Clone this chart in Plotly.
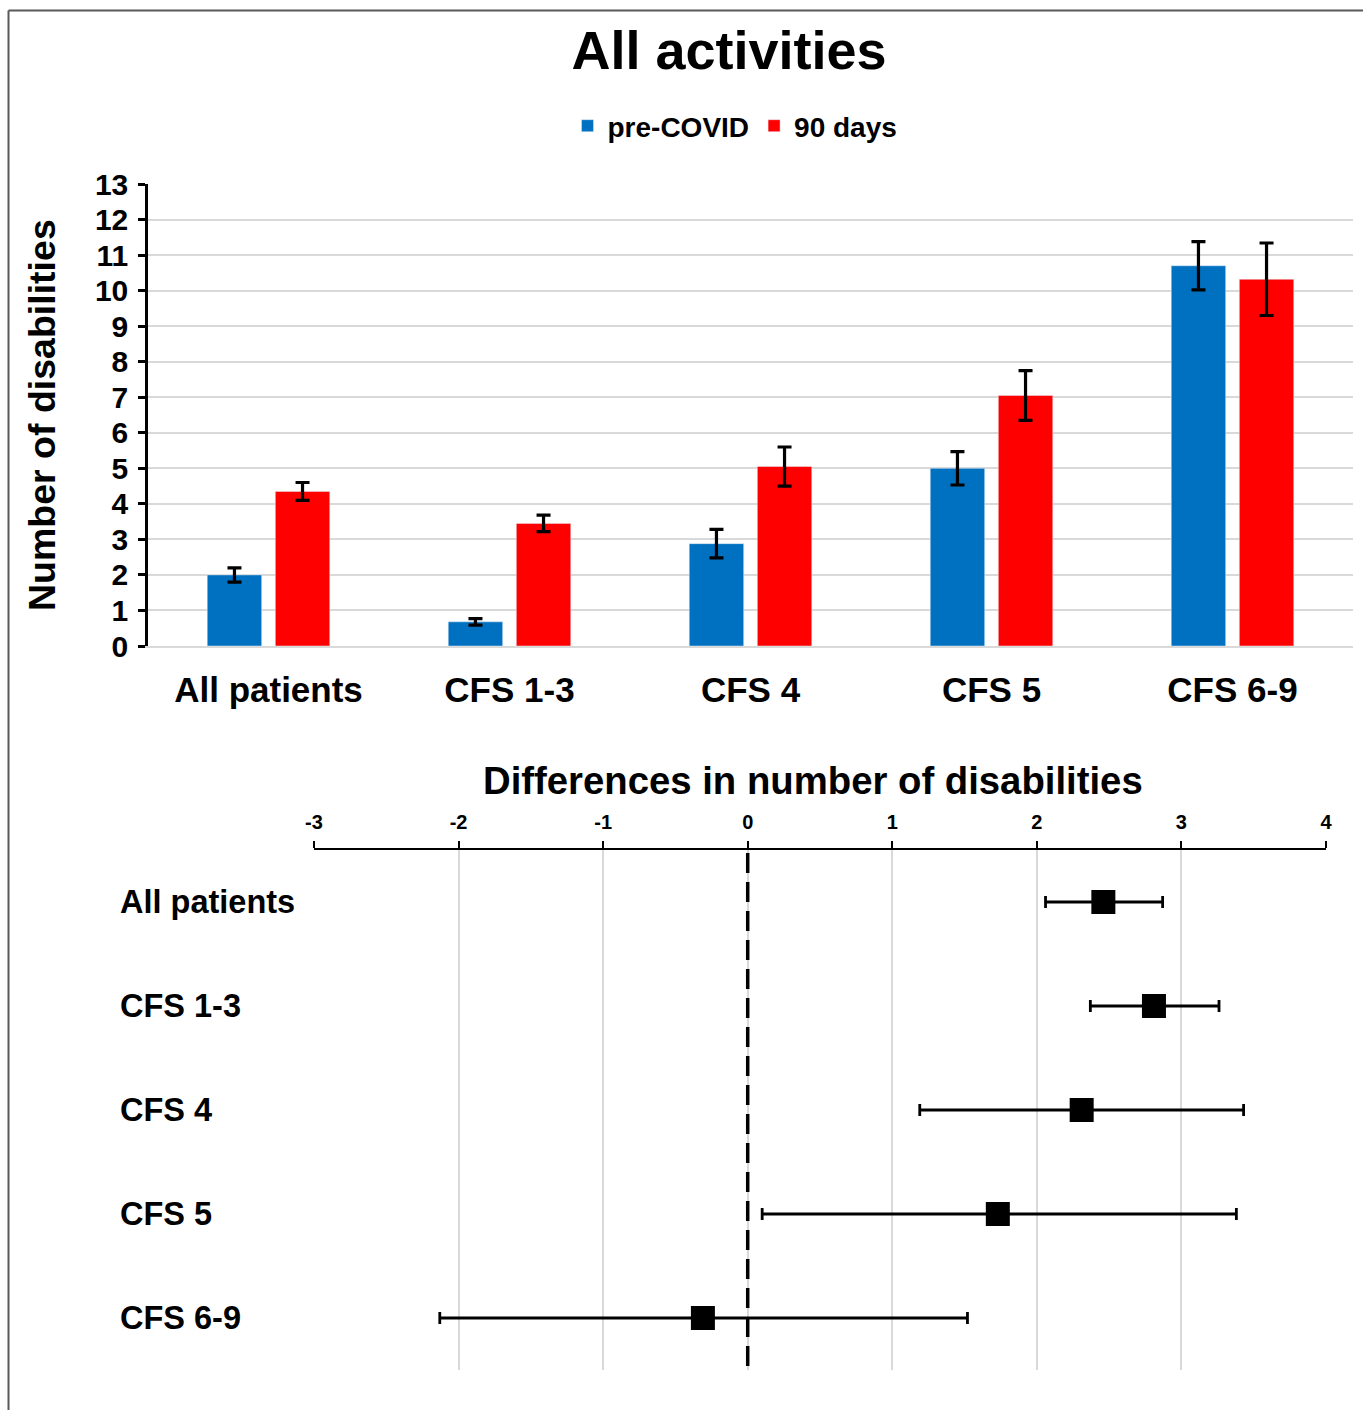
import plotly.graph_objects as go

W, H = 1363, 1410

categories = ["All patients", "CFS 1-3", "CFS 4", "CFS 5", "CFS 6-9"]
pre_covid = [2.0, 0.68, 2.88, 5.0, 10.7]
pre_covid_err = [0.2, 0.09, 0.4, 0.47, 0.68]
days90 = [4.35, 3.45, 5.05, 7.05, 10.32]
days90_err = [0.25, 0.23, 0.55, 0.7, 1.02]

diff = [2.46, 2.81, 2.31, 1.73, -0.31]
diff_lo = [2.06, 2.37, 1.19, 0.10, -2.13]
diff_hi = [2.87, 3.26, 3.43, 3.38, 1.52]

y_ticks = list(range(0, 14))
x2_ticks = [-3, -2, -1, 0, 1, 2, 3, 4]

FONT = "Liberation Sans, Arial, sans-serif"
BLUE = "#0070C0"
RED = "#FF0000"
GRID = "#d9d9d9"


def px_x(p):
    return p / W


def px_y(p):
    return 1 - p / H


fig = go.Figure()

fig.add_trace(go.Bar(
    x=categories, y=pre_covid, name="<b>pre-COVID</b>",
    marker=dict(color=BLUE),
    error_y=dict(type="data", array=pre_covid_err, color="black", thickness=3.2, width=7),
    xaxis="x", yaxis="y",
))
fig.add_trace(go.Bar(
    x=categories, y=days90, name="<b>90 days</b>",
    marker=dict(color=RED),
    error_y=dict(type="data", array=days90_err, color="black", thickness=3.2, width=7),
    xaxis="x", yaxis="y",
))

fig.add_trace(go.Scatter(
    x=diff, y=categories, mode="markers", showlegend=False,
    marker=dict(symbol="square", size=24, color="black"),
    error_x=dict(type="data", symmetric=False,
                 array=[h - d for h, d in zip(diff_hi, diff)],
                 arrayminus=[d - l for d, l in zip(diff, diff_lo)],
                 color="black", thickness=2.8, width=6),
    xaxis="x2", yaxis="y2",
))

annotations = [
    dict(text="<b>Number of disabilities</b>", xref="paper", yref="paper",
         x=px_x(42), y=px_y(415), textangle=-90, showarrow=False,
         font=dict(size=37.5, color="black", family=FONT), xanchor="center", yanchor="middle"),
    dict(text="<b>Differences in number of disabilities</b>", xref="paper", yref="paper",
         x=px_x(813), y=px_y(780), showarrow=False,
         font=dict(size=38.3, color="black", family=FONT), xanchor="center", yanchor="middle"),
]
for c in categories:
    annotations.append(dict(
        text="<b>%s</b>" % c, xref="paper", yref="y2", x=px_x(118), y=c,
        xanchor="left", yanchor="middle", showarrow=False,
        font=dict(size=32.5, color="black", family=FONT)))

shapes = [
    dict(type="line", xref="paper", yref="paper", x0=px_x(8.5), x1=1,
         y0=px_y(10.5), y1=px_y(10.5), line=dict(color="#595959", width=2), layer="below"),
    dict(type="line", xref="paper", yref="paper", x0=px_x(8.5), x1=px_x(8.5),
         y0=0, y1=px_y(10.5), line=dict(color="#595959", width=2), layer="below"),
    dict(type="line", xref="x2", yref="paper", x0=0, x1=0,
         y0=px_y(1366), y1=px_y(851), line=dict(color="black", width=3.5, dash="20px,9px")),
]

fig.update_layout(
    width=W, height=H,
    margin=dict(l=0, r=0, t=0, b=0, pad=0, autoexpand=False),
    paper_bgcolor="white", plot_bgcolor="white",
    font=dict(family=FONT, color="black"),
    title=dict(text="<b>All activities</b>", x=px_x(729), xanchor="center",
               y=px_y(50), yanchor="middle", font=dict(size=54, color="black", family=FONT)),
    barmode="group", bargap=0.435, bargroupgap=0.2,
    legend=dict(orientation="h", x=px_x(735), xanchor="center", y=px_y(126), yanchor="middle",
                font=dict(size=28, color="black", family=FONT), itemwidth=30,
                bgcolor="rgba(0,0,0,0)"),
    xaxis=dict(domain=[px_x(148), px_x(1353)], anchor="y", type="category", automargin=False,
               showline=True, linecolor=GRID, linewidth=2, showgrid=False,
               tickfont=dict(size=35, color="black", family=FONT), ticks="",
               ticklabelstandoff=12,
               tickprefix="<b>", ticksuffix="</b>"),
    yaxis=dict(domain=[px_y(646), px_y(184)], anchor="x", range=[0, 13], automargin=False,
               tickvals=y_ticks, ticktext=["<b>%d</b>" % v for v in y_ticks],
               showline=True, linecolor="black", linewidth=2.5,
               ticks="outside", ticklen=7, tickwidth=2.5, tickcolor="black",
               ticklabelstandoff=4,
               showgrid=True, gridcolor=GRID, gridwidth=2, zeroline=False,
               tickfont=dict(size=30, color="black", family=FONT)),
    xaxis2=dict(domain=[px_x(314), px_x(1326)], anchor="y2", side="top", range=[-3, 4],
                automargin=False,
                tickvals=x2_ticks, ticktext=["<b>%d</b>" % v for v in x2_ticks],
                showline=True, linecolor="black", linewidth=2,
                ticks="outside", ticklen=7, tickwidth=2, tickcolor="black",
                ticklabelstandoff=4,
                showgrid=True, gridcolor=GRID, gridwidth=1.5, zeroline=False,
                tickfont=dict(size=20, color="black", family=FONT)),
    yaxis2=dict(domain=[px_y(1370), px_y(850)], anchor="x2", type="category", automargin=False,
                categoryorder="array", categoryarray=categories, range=[4.5, -0.5],
                showticklabels=False, showgrid=False, zeroline=False, showline=False, ticks=""),
    annotations=annotations,
    shapes=shapes,
)

fig.write_html(
    "out.html",
    config={"displayModeBar": False},
    post_script="document.body.style.margin='0';document.body.style.padding='0';"
                "document.documentElement.style.overflow='hidden';",
)
